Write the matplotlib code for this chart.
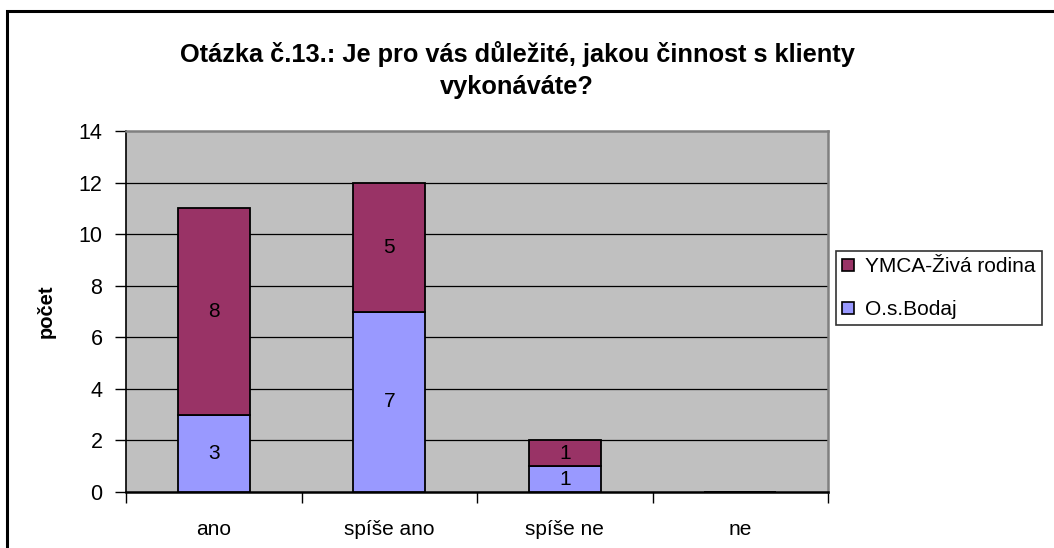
import numpy as np
import matplotlib.pyplot as plt
from matplotlib.patches import Rectangle, Patch

plt.rcParams['font.family'] = ['Liberation Sans', 'DejaVu Sans']

# data
categories = ['ano', 'spíše ano', 'spíše ne', 'ne']
bodaj = [3, 7, 1, 0]
ymca = [8, 5, 1, 0]
series_names = ['YMCA-Živá rodina', 'O.s.Bodaj']
yticks = [0, 2, 4, 6, 8, 10, 12, 14]

c_bodaj = '#9999FF'
c_ymca = '#993366'

W, H = 1054, 548
fig = plt.figure(figsize=(W / 100, H / 100), dpi=100)

# outer chart border (cut off on right and bottom)
fig.patches.append(Rectangle((7 / W, -0.1), 1.2, 1 - 11 / H + 0.1,
                             transform=fig.transFigure, fill=False,
                             edgecolor='black', linewidth=2.2, zorder=0))

ax = fig.add_axes([126 / W, 1 - 492 / H, (828 - 126) / W, (492 - 131) / H])
ax.set_facecolor('#C0C0C0')

x = np.arange(len(categories))
w = 0.41
ax.bar(x, bodaj, w, color=c_bodaj, edgecolor='black', linewidth=1.3, zorder=3)
ax.bar(x, ymca, w, bottom=bodaj, color=c_ymca, edgecolor='black', linewidth=1.3, zorder=3)

# data labels
for i in range(len(categories)):
    if bodaj[i] > 0:
        ax.text(x[i], bodaj[i] / 2, str(bodaj[i]), ha='center', va='center', fontsize=15, zorder=4)
    if ymca[i] > 0:
        ax.text(x[i], bodaj[i] + ymca[i] / 2, str(ymca[i]), ha='center', va='center', fontsize=15, zorder=4)

ax.set_xlim(-0.5, len(categories) - 0.5)
ax.set_ylim(0, 14)
ax.set_yticks(yticks)
ax.set_xticks(np.arange(len(categories) + 1) - 0.5)
ax.set_xticklabels([])
ax.set_xticks(x, minor=True)
ax.set_xticklabels(categories, minor=True, fontsize=15)
ax.tick_params(axis='x', which='minor', length=0, pad=20)
ax.tick_params(axis='x', which='major', length=8, width=1, direction='out', color='black')
ax.tick_params(axis='y', length=8, width=1, direction='out', labelsize=15.5, pad=9)

for yv in yticks[1:-1]:
    ax.axhline(yv, color='black', linewidth=0.9, zorder=1)

ax.spines['left'].set_color('black')
ax.spines['bottom'].set_color('black')
ax.spines['left'].set_linewidth(1.2)
ax.spines['bottom'].set_linewidth(1.8)
ax.spines['top'].set_color('#808080')
ax.spines['right'].set_color('#808080')
ax.spines['top'].set_linewidth(1.8)
ax.spines['right'].set_linewidth(1.8)

ax.set_ylabel('počet', fontsize=14.5, fontweight='bold', labelpad=16)

fig.text(517 / W, 1 - 54 / H, 'Otázka č.13.: Je pro vás důležité, jakou činnost s klienty',
         ha='center', va='center', fontsize=18.3, fontweight='bold')
fig.text(517 / W, 1 - 87 / H, 'vykonáváte?', ha='center', va='center', fontsize=18.3, fontweight='bold')

handles = [Patch(facecolor=c_ymca, edgecolor='black', linewidth=1.2),
           Patch(facecolor=c_bodaj, edgecolor='black', linewidth=1.2)]
leg = fig.legend(handles, series_names, loc='upper left',
                 bbox_to_anchor=(836 / W, 1 - 251 / H), fontsize=15,
                 frameon=True, fancybox=False, handlelength=0.55, handleheight=0.55,
                 handletextpad=0.55, borderpad=0.3, labelspacing=1.15, borderaxespad=0)
leg.get_frame().set_edgecolor('black')
leg.get_frame().set_linewidth(1.2)

fig.savefig('out.png', dpi=100)
